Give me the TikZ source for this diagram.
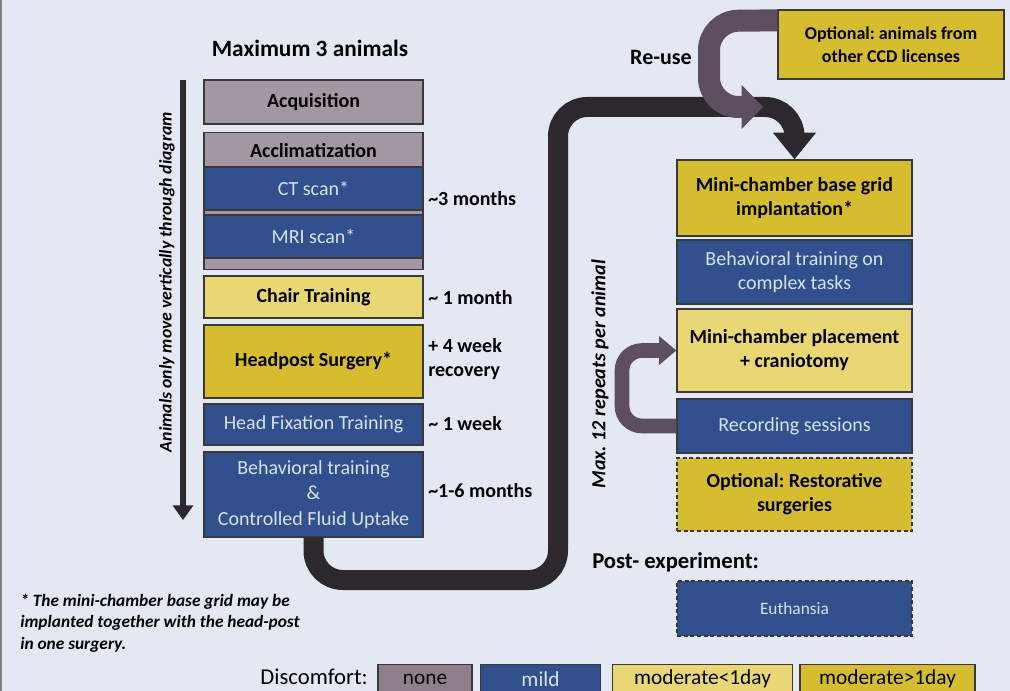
\documentclass[tikz,border=0pt]{standalone}
\usepackage{fontspec}
\setmainfont{Carlito}
\frenchspacing
\usetikzlibrary{arrows.meta,calc}
\definecolor{bg}{HTML}{E3E8F2}
\definecolor{cnone}{HTML}{A397A3}
\definecolor{cnoneleg}{HTML}{8E7F8C}
\definecolor{cmild}{HTML}{33508E}
\definecolor{clow}{HTML}{E8D772}
\definecolor{chigh}{HTML}{D6BC2F}
\definecolor{cdark}{HTML}{2C282E}
\definecolor{creuse}{HTML}{5D4F5F}
\definecolor{cbluetext}{HTML}{D6E2F2}
\definecolor{cborder}{HTML}{3A3838}
\begin{document}
\begin{tikzpicture}[x=0.75pt,y=-0.75pt,
  box/.style={draw=cborder, line width=1pt, inner sep=0pt, align=center,
    font=\fontsize{15}{18}\selectfont},
  lbox/.style={box, minimum width=164.25pt},
  rbox/.style={box, minimum width=176.25pt},
  graybox/.style={fill=cnone, font=\fontsize{15}{18}\selectfont\bfseries},
  bluebox/.style={fill=cmild, text=cbluetext},
  lowbox/.style={fill=clow, font=\fontsize{15}{18}\selectfont\bfseries},
  highbox/.style={fill=chigh, font=\fontsize{15}{18}\selectfont\bfseries},
  dashedbox/.style={dash pattern=on 3pt off 2pt},
  timelbl/.style={anchor=west, inner sep=0pt, align=left, font=\fontsize{15}{18}\selectfont\bfseries},
  legbox/.style={draw=cborder, line width=1pt, inner sep=0pt, minimum height=22pt, font=\fontsize{16}{19}\selectfont},
  bigarrow/.style={draw=cdark, line width=15pt, rounded corners=22pt, -{Triangle[width=31pt,length=20pt]}},
  reusearrow/.style={draw=creuse, line width=16.5pt, rounded corners=22pt, -{Triangle[width=32pt,length=16pt]}},
  looparrow/.style={draw=creuse, line width=11pt, rounded corners=15pt, -{Triangle[width=21pt,length=13pt]}},
]
\useasboundingbox (0,0) rectangle (1010,691);
\fill[bg] (0,0) rectangle (1010,691);
\draw[gray, line width=1pt] (1,0) -- (1,691);

% left column
\node[lbox, graybox, minimum height=33pt] (acq) at (313.5,102) {Acquisition};
\node[lbox, graybox, minimum height=102.75pt, anchor=north] (acclim) at (313.5,132) {};
\node[font=\fontsize{15}{18}\selectfont\bfseries, inner sep=0pt] (acclimtext) at (313.5,151) {Acclimatization};
\node[lbox, bluebox, minimum height=32.25pt] (ct) at (313.5,188.5) {CT scan*};
\node[lbox, bluebox, minimum height=32.25pt] (mri) at (313.5,236.5) {MRI scan*};
\node[lbox, lowbox, minimum height=31.5pt] (chair) at (313.5,297) {Chair Training};
\node[lbox, highbox, minimum height=54.75pt] (headpost) at (313.5,361.5) {Headpost Surgery*};
\node[lbox, bluebox, minimum height=30.75pt] (headfix) at (313.5,424.5) {Head Fixation Training};
\node[lbox, bluebox, minimum height=63.75pt] (behav) at (313.5,494.5) {Behavioral training\\[1pt]\&\\[1pt]Controlled Fluid Uptake};

% time labels
\node[timelbl] (t1) at (428,199) {\textasciitilde3 months};
\node[timelbl] (t2) at (428,298) {\textasciitilde\ 1 month};
\node[timelbl] (t3) at (428,359) {+ 4 week\\recovery};
\node[timelbl] (t4) at (428,424) {\textasciitilde\ 1 week};
\node[timelbl] (t5) at (428,491) {\textasciitilde1-6 months};

\node[font=\fontsize{17.5}{20}\selectfont\bfseries] (title) at (310,48) {Maximum 3 animals};

% vertical arrow
\coordinate (vtop) at (183,80);
\coordinate (vbot) at (183,520);
\draw[draw=cdark, line width=4.5pt, -{Triangle[width=15pt,length=11pt]}] (vtop) -- (vbot);
\node[rotate=90, font=\fontsize{13.3}{16}\selectfont\bfseries\itshape] (animals) at (167,282) {Animals only move vertically through diagram};

% right column
\node[rbox, highbox, minimum height=57pt] (grid) at (794.5,198) {Mini-chamber base grid\\implantation*};
\node[rbox, bluebox, minimum height=48pt] (complex) at (794.5,272) {Behavioral training on\\complex tasks};
\node[rbox, lowbox, minimum height=62.25pt] (placement) at (794.5,350.5) {Mini-chamber placement\\+ craniotomy};
\node[rbox, bluebox, minimum height=40.5pt] (recording) at (794.5,426) {Recording sessions};
\node[rbox, highbox, dashedbox, minimum height=54.75pt] (restor) at (794.5,494.5) {Optional: Restorative\\surgeries};
\node[rbox, bluebox, dashedbox, minimum height=41.25pt, font=\fontsize{13}{16}\selectfont] (euth) at (794.5,608.5) {Euthansia};
\node[anchor=west, inner sep=0pt, font=\fontsize{17}{20}\selectfont\bfseries] (post) at (592,562) {Post- experiment:};

\node[box, highbox, minimum width=169.5pt, minimum height=51.75pt, font=\fontsize{13.5}{17}\selectfont\bfseries] (optional) at (891,44.5) {Optional: animals from\\other CCD licenses};
\node[font=\fontsize{16.5}{19}\selectfont\bfseries] (reuse) at (661,57) {Re-use};

\node[rotate=90, font=\fontsize{15}{18}\selectfont\bfseries\itshape] (maxrep) at (600,374) {Max. 12 repeats per animal};

% connectors
\draw[bigarrow] (behav.south) -- (behav.south |- {(0,580)}) -- (558,580) -- (558,107) -- (grid.north |- {(0,107)}) -- (grid.north);
\coordinate (reuseend) at (763,107);
\draw[reusearrow] ($(optional.north west)+(0,11)$) -- (709,21) -- (709,107) -- (reuseend);
\draw[looparrow] (recording.west) -- (622,426) -- (622,350.5) -- (placement.west);

% footnote
\node[anchor=north west, inner sep=0pt, align=left, font=\fontsize{13}{16}\selectfont\bfseries\itshape] (foot) at (20,594) {* The mini-chamber base grid may be\\implanted together with the head-post\\in one surgery.};

% legend
\node[anchor=east, inner sep=0pt, font=\fontsize{17}{20}\selectfont] (disc) at (368,677) {Discomfort:};
\node[legbox, fill=cnoneleg, minimum width=70.5pt] (lnone) at (425,679) {none};
\node[legbox, fill=cmild, text=cbluetext, minimum width=90pt] (lmild) at (540.5,679) {mild};
\node[legbox, fill=clow, minimum width=135pt] (llow) at (702.5,679) {moderate<1day};
\node[legbox, fill=chigh, minimum width=131.25pt] (lhigh) at (887.5,679) {moderate>1day};
\end{tikzpicture}
\end{document}
